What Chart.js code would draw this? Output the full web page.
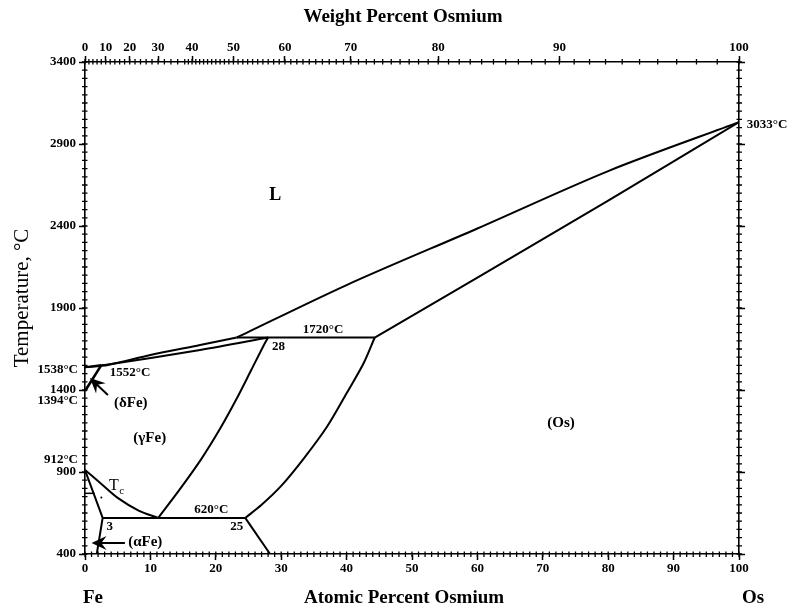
<!DOCTYPE html>
<html>
<head>
<meta charset="utf-8">
<script src="https://cdn.jsdelivr.net/npm/chart.js@4.4.1/dist/chart.umd.min.js"></script>
<style>
html,body{margin:0;padding:0;background:#fff}
#wrap{width:792px;height:614px;position:relative}
</style>
</head>
<body>
<div id="wrap"><canvas id="c"></canvas></div>
<script>
// ---------- DATA (x = atomic percent Os, y = temperature in °C) ----------
const liquidusFeSide   = [[0,1538],[3.5,1552],[10,1613],[17.6,1674],[23.2,1720]];
const liquidusOsSide   = [[23.2,1720],[40,2040],[60,2385],[80,2735],[100,3033]];
const solidusOs        = [[44.3,1720],[60,2085],[80,2555],[100,3033]];
const solidusGamma     = [[3,1552],[17.6,1644],[28,1720]];
const solidusDelta     = [[0,1538],[2.5,1552]];
const deltaGammaBound  = [[0,1394],[2.5,1552]];
const peritectic1552   = [[2.5,1552],[3.5,1552]];
const peritectic1720   = [[23.2,1720],[44.3,1720]];
const gammaSolvus      = [[11.2,620],[14.6,800],[17.8,980],[20.6,1160],[23.1,1340],[25.4,1520],[27.3,1670],[28,1720]];
const osSolvus         = [[24.5,620],[27,700],[30,815],[33.5,985],[37,1176],[40,1380],[42.6,1563],[44.3,1720]];
const osSolvusLow      = [[24.5,620],[28.3,400]];
const alphaSolvus      = [[0,912],[2.7,620],[1.8,400]];
const gammaAlphaBound  = [[0,912],[2.2,838],[5,742],[8.2,665],[11.2,620]];
const eutectoid620     = [[2.7,620],[24.5,620]];
const curieLine        = [[0,770],[1.46,770]];

// axis tick values
const tempTicks    = [400,900,1400,1900,2400,2900,3400];
const atTicks      = [0,10,20,30,40,50,60,70,80,90,100];
const wtTickLabels = [0,10,20,30,40,50,60,70,80,90,100];
const massFe = 55.845, massOs = 190.23;

// ---------- helpers ----------
const FONT = "'Liberation Serif','Times New Roman',serif";
function wtToAt(w){ if (w >= 100) return 100; const os = w/massOs, fe = (100-w)/massFe; return 100*os/(os+fe); }

const curves = [
  {pts: liquidusFeSide, smooth: true},
  {pts: liquidusOsSide, smooth: true},
  {pts: solidusOs, smooth: true},
  {pts: solidusGamma, smooth: true},
  {pts: solidusDelta},
  {pts: deltaGammaBound, w: 2.6},
  {pts: peritectic1552},
  {pts: peritectic1720},
  {pts: gammaSolvus, smooth: true},
  {pts: osSolvus, smooth: true},
  {pts: osSolvusLow},
  {pts: alphaSolvus},
  {pts: gammaAlphaBound, smooth: true},
  {pts: eutectoid620},
  {pts: curieLine, w: 1.5}
];

// annotations (in data coordinates)
const textLabels = [
  {t:'L', x:29.1, y:2589, size:18, bold:true},
  {t:'(δFe)', x:7.0, y:1321, size:15, bold:true},
  {t:'(γFe)', x:9.9, y:1107, size:15, bold:true},
  {t:'(Os)', x:72.8, y:1199, size:15, bold:true},
  {t:'1552°C', x:3.8, y:1504, size:13, align:'left', bold:true},
  {t:'1720°C', x:36.4, y:1766, size:13, bold:true},
  {t:'28', x:29.6, y:1664, size:13, bold:true},
  {t:'620°C', x:19.3, y:668, size:13, bold:true},
  {t:'25', x:23.2, y:565, size:13, bold:true},
  {t:'3', x:3.8, y:565, size:13, bold:true},
  {t:'(αFe)', x:6.6, y:475, size:15, align:'left', bold:true},
  {t:'3033°C', x:101.2, y:3020, size:13, align:'left', bold:true}
];
const arrows = [
  {from:[3.5,1370], to:[0.76,1473]},
  {from:[6.1,467], to:[1.0,467]}
];
const sideLabels = [ {t:'1538°C', y:1538, dy:2}, {t:'1394°C', y:1394, dy:10}, {t:'912°C', y:912, dy:-10} ];

const annotPlugin = {
  id: 'annot',
  afterDraw(chart){
    const {ctx} = chart;
    const x = chart.scales.x, y = chart.scales.y;
    const L = x.left, R = x.right, T = y.top, B = y.bottom;
    ctx.save();
    ctx.strokeStyle = '#000'; ctx.fillStyle = '#000'; ctx.lineWidth = 1.3;
    // minor ticks
    ctx.beginPath();
    for (let v = 0; v <= 100; v++) {
      const px = x.getPixelForValue(v);
      ctx.moveTo(px, B - 2.5); ctx.lineTo(px, B + 3);
    }
    for (let t = 400; t <= 3400; t += 50) {
      const py = y.getPixelForValue(t);
      ctx.moveTo(L - 3, py); ctx.lineTo(L + 2.5, py);
      ctx.moveTo(R - 2.5, py); ctx.lineTo(R + 3, py);
    }
    let lastPx = -100;
    for (let w = 0; w <= 100; w++) {
      const px = x.getPixelForValue(wtToAt(w));
      if (w % 10 !== 0 && px - lastPx < 3.5) continue;
      lastPx = px;
      ctx.moveTo(px, T - 3); ctx.lineTo(px, T + 2.5);
    }
    ctx.stroke();

    // in-plot texts
    ctx.textBaseline = 'middle';
    for (const a of textLabels) {
      ctx.font = (a.bold ? 'bold ' : '') + a.size + 'px ' + FONT;
      ctx.textAlign = a.align || 'center';
      ctx.fillText(a.t, x.getPixelForValue(a.x), y.getPixelForValue(a.y));
    }
    // T_c
    ctx.textAlign = 'center';
    ctx.font = '16px ' + FONT;
    const tcx = x.getPixelForValue(4.4), tcy = y.getPixelForValue(818);
    ctx.fillText('T', tcx, tcy);
    ctx.font = '11px ' + FONT;
    ctx.fillText('c', tcx + 8, tcy + 6);
    ctx.beginPath(); ctx.arc(x.getPixelForValue(2.5), y.getPixelForValue(745), 1, 0, Math.PI*2); ctx.fill();

    // side labels on the temperature axis
    ctx.font = 'bold 13px ' + FONT;
    ctx.textAlign = 'right';
    for (const s of sideLabels) ctx.fillText(s.t, L - 7, y.getPixelForValue(s.y) + s.dy);

    // arrows
    for (const a of arrows) {
      const x0 = x.getPixelForValue(a.from[0]), y0 = y.getPixelForValue(a.from[1]);
      const x1 = x.getPixelForValue(a.to[0]),   y1 = y.getPixelForValue(a.to[1]);
      const ang = Math.atan2(y1 - y0, x1 - x0);
      const hl = 15, hw = 7;
      ctx.lineWidth = 2;
      ctx.beginPath(); ctx.moveTo(x0, y0); ctx.lineTo(x1 - hl*0.6*Math.cos(ang), y1 - hl*0.6*Math.sin(ang)); ctx.stroke();
      ctx.beginPath();
      ctx.moveTo(x1, y1);
      ctx.lineTo(x1 - hl*Math.cos(ang) + hw*Math.sin(ang), y1 - hl*Math.sin(ang) - hw*Math.cos(ang));
      ctx.lineTo(x1 - hl*0.65*Math.cos(ang), y1 - hl*0.65*Math.sin(ang));
      ctx.lineTo(x1 - hl*Math.cos(ang) - hw*Math.sin(ang), y1 - hl*Math.sin(ang) + hw*Math.cos(ang));
      ctx.closePath(); ctx.fill();
    }

    // axis titles & element labels
    ctx.font = 'bold 19px ' + FONT;
    ctx.textAlign = 'center';
    ctx.fillText('Weight Percent Osmium', 403, 17);
    ctx.fillText('Atomic Percent Osmium', 404, 598);
    ctx.fillText('Fe', 93, 598);
    ctx.fillText('Os', 753, 598);
    ctx.save();
    ctx.translate(22, 298); ctx.rotate(-Math.PI/2);
    ctx.font = '21px ' + FONT;
    ctx.fillText('Temperature, °C', 0, 0);
    ctx.restore();
    ctx.restore();
  }
};

const tickFont = {family: FONT, size: 13, weight: 'bold'};
const gridOpts = {drawOnChartArea:false, drawTicks:true, tickLength:6, color:'#000', tickWidth:1.5};
const borderOpts = {display:true, color:'#000', width:1.6};
const plainNum = v => String(v);

new Chart(document.getElementById('c'), {
  type: 'scatter',
  data: {
    datasets: curves.map((c, i) => ({
      label: 'curve' + i,
      data: c.pts.map(([px, py]) => ({x: px, y: py})),
      showLine: true,
      pointRadius: 0,
      borderColor: '#000',
      borderWidth: c.w || 2,
      tension: c.smooth ? 0.3 : 0,
      fill: false,
      xAxisID: 'x', yAxisID: 'y'
    }))
  },
  options: {
    responsive: true,
    maintainAspectRatio: false,
    animation: false,
    layout: {padding: 0},
    plugins: {legend: {display: false}, tooltip: {enabled: false}},
    scales: {
      x: {
        type: 'linear', position: 'bottom', min: 0, max: 100,
        afterBuildTicks: s => { s.ticks = atTicks.map(v => ({value: v})); },
        afterFit: s => { s.height = 60; },
        ticks: {color:'#000', font: tickFont, padding: 1, maxRotation: 0, autoSkip: false, callback: plainNum},
        grid: gridOpts, border: borderOpts
      },
      x2: {
        type: 'linear', position: 'top', min: 0, max: 100,
        afterBuildTicks: s => { s.ticks = wtTickLabels.map(w => ({value: wtToAt(w)})); },
        afterFit: s => { s.height = 62; },
        ticks: {color:'#000', font: tickFont, padding: 1, maxRotation: 0, autoSkip: false,
                callback: (v, i) => String(wtTickLabels[i])},
        grid: gridOpts, border: borderOpts
      },
      y: {
        type: 'linear', position: 'left', min: 400, max: 3400,
        afterBuildTicks: s => { s.ticks = tempTicks.map(v => ({value: v})); },
        afterFit: s => { s.width = 85; },
        ticks: {color:'#000', font: tickFont, padding: 3, autoSkip: false, callback: plainNum},
        grid: gridOpts, border: borderOpts
      },
      y2: {
        type: 'linear', position: 'right', min: 400, max: 3400,
        afterBuildTicks: s => { s.ticks = tempTicks.map(v => ({value: v})); },
        afterFit: s => { s.width = 53; },
        ticks: {color:'#000', font: tickFont, callback: () => ''},
        grid: gridOpts, border: borderOpts
      }
    }
  },
  plugins: [annotPlugin]
});
</script>
</body>
</html>
